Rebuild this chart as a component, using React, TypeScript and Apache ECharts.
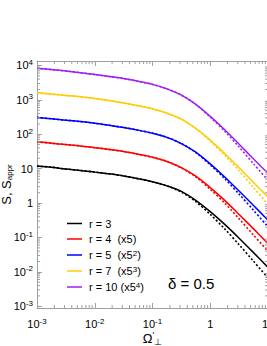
import React, { useEffect, useRef } from 'react';
import * as echarts from 'echarts';

// ---- data ----
const OMEGA = [
  0.001, 0.00178, 0.00316, 0.00562, 0.01, 0.0178, 0.0316, 0.0562, 0.1,
  0.178, 0.316, 0.562, 1, 1.78, 3.16, 5.62, 10,
];

const S_R3 = [12.0, 11.0, 9.77, 8.91, 7.94, 7.08, 6.17, 5.13, 4.17, 3.16, 2.19, 1.2, 0.562, 0.24, 0.0955, 0.0363, 0.0135];
const SA_R3 = [12.0, 11.0, 9.77, 8.91, 7.94, 7.08, 6.17, 5.13, 4.17, 3.16, 2.09, 1.1, 0.468, 0.178, 0.0617, 0.0204, 0.00661];
const S_R4 = [60.3, 55.0, 50.1, 45.7, 40.7, 36.3, 31.6, 26.3, 21.4, 16.2, 10.7, 6.03, 2.82, 1.2, 0.468, 0.178, 0.0661];
const SA_R4 = [60.3, 55.0, 50.1, 45.7, 40.7, 36.3, 31.6, 26.3, 21.4, 16.2, 10.5, 5.75, 2.51, 1.0, 0.347, 0.117, 0.0398];
const S_R5 = [309, 282, 257, 234, 209, 182, 158, 132, 107, 81.3, 53.7, 30.2, 13.8, 5.75, 2.24, 0.851, 0.316];
const SA_R5 = [309, 282, 257, 234, 209, 182, 158, 132, 107, 81.3, 53.7, 29.5, 12.9, 5.13, 1.82, 0.617, 0.204];
const S_R7 = [1622, 1479, 1349, 1230, 1096, 955, 813, 676, 550, 407, 275, 148, 67.6, 27.5, 10.7, 3.98, 1.48];
const SA_R7 = [1622, 1479, 1349, 1230, 1096, 955, 813, 676, 550, 407, 275, 145, 63.1, 24.5, 8.71, 2.82, 0.912];
const S_R10 = [8318, 7586, 6918, 6166, 5495, 4786, 4169, 3467, 2818, 2089, 1380, 741, 331, 135, 51.3, 19.1, 7.24];
const SA_R10 = [8318, 7586, 6918, 6166, 5495, 4786, 4169, 3467, 2818, 2089, 1380, 741, 316, 123, 42.7, 13.8, 4.57];

const SERIES_NAMES = ['r = 3', 'r = 4  (x5)', 'r = 5  (x5²)', 'r = 7  (x5³)', 'r = 10 (x5⁴)'];
const SERIES_COLORS = ['#000000', '#ff0000', '#0000ff', '#ffcc00', '#a020f0'];
const SOLID = [S_R3, S_R4, S_R5, S_R7, S_R10];
const APPR = [SA_R3, SA_R4, SA_R5, SA_R7, SA_R10];

const X_MIN = 0.001;
const X_MAX = 10;
const Y_MIN = 0.000891;
const Y_MAX = 13490;

const X_TICK_VALUES = [0.001, 0.01, 0.1, 1, 10];
const X_TICK_TEXT: [string, string][] = [['10', '-3'], ['10', '-2'], ['10', '-1'], ['1', ''], ['10', '']];
const Y_TICK_VALUES = [0.001, 0.01, 0.1, 1, 10, 100, 1000, 10000];
const Y_TICK_TEXT: [string, string][] = [
  ['10', '-3'], ['10', '-2'], ['10', '-1'], ['1', ''], ['10', ''], ['10', '2'], ['10', '3'], ['10', '4'],
];
const X_MINOR = [
  0.002, 0.003, 0.004, 0.005, 0.006, 0.007, 0.008, 0.009,
  0.02, 0.03, 0.04, 0.05, 0.06, 0.07, 0.08, 0.09,
  0.2, 0.3, 0.4, 0.5, 0.6, 0.7, 0.8, 0.9,
  2, 3, 4, 5, 6, 7, 8, 9,
];
const Y_MINOR = [
  0.002, 0.003, 0.004, 0.005, 0.006, 0.007, 0.008, 0.009,
  0.02, 0.03, 0.04, 0.05, 0.06, 0.07, 0.08, 0.09,
  0.2, 0.3, 0.4, 0.5, 0.6, 0.7, 0.8, 0.9,
  2, 3, 4, 5, 6, 7, 8, 9,
  20, 30, 40, 50, 60, 70, 80, 90,
  200, 300, 400, 500, 600, 700, 800, 900,
  2000, 3000, 4000, 5000, 6000, 7000, 8000, 9000,
];

const FONT = '"Liberation Sans", Arial, sans-serif';
const AXIS_COLOR = '#a0a0a0';

function tickLabel(values: number[], texts: [string, string][], v: number): string {
  for (let i = 0; i < values.length; i++) {
    if (Math.abs(Math.log10(v) - Math.log10(values[i])) < 1e-6) {
      const [b, s] = texts[i];
      return s ? `{b|${b}}{s|${s}}` : `{b|${b}}`;
    }
  }
  return '';
}

const SUP_MAP: Record<string, string> = { '²': '2', '³': '3', '⁴': '4' };
function legendRich(name: string): string {
  const out = name.replace(/[²³⁴]/g, (m) => `}{s|${SUP_MAP[m]}}{a|`);
  return `{a|${out}}`;
}

const labelRich = {
  b: { fontSize: 11, lineHeight: 14, fontFamily: FONT, color: '#000' },
  s: { fontSize: 8, lineHeight: 4, verticalAlign: 'top', fontFamily: FONT, color: '#000' },
};

export default function App() {
  const ref = useRef<HTMLDivElement>(null);

  useEffect(() => {
    if (!ref.current) return;
    const chart = echarts.init(ref.current, null, { renderer: 'svg' });

    const lineSeries: any[] = [];
    SOLID.forEach((arr, i) => {
      lineSeries.push({
        type: 'line',
        name: SERIES_NAMES[i],
        data: OMEGA.map((x, j) => [x, arr[j]]),
        symbol: 'none',
        smooth: 0.3,
        color: SERIES_COLORS[i],
        lineStyle: { color: SERIES_COLORS[i], width: 1.5 },
        z: 3,
      });
    });
    APPR.forEach((arr, i) => {
      lineSeries.push({
        type: 'line',
        name: SERIES_NAMES[i] + ' appr',
        data: OMEGA.map((x, j) => [x, arr[j]]),
        symbol: 'none',
        smooth: 0.3,
        color: SERIES_COLORS[i],
        lineStyle: { color: SERIES_COLORS[i], width: 1.6, type: [2, 2] },
        z: 2,
      });
    });

    const tickStyle = { stroke: AXIS_COLOR, lineWidth: 1 };

    const option: any = {
      animation: false,
      backgroundColor: '#ffffff',
      textStyle: { fontFamily: FONT },
      grid: { left: 37, top: 61, right: 2, bottom: 38, containLabel: false, outerBoundsMode: 'none' },
      legend: {
        data: SERIES_NAMES,
        orient: 'vertical',
        left: 62,
        top: 213,
        icon: 'rect',
        itemWidth: 15,
        itemHeight: 1.5,
        itemGap: 4.5,
        selectedMode: false,
        formatter: (name: string) => legendRich(name),
        textStyle: {
          padding: [0, 0, 0, 2],
          rich: {
            a: { fontSize: 11, lineHeight: 12, fontFamily: FONT, color: '#000' },
            s: { fontSize: 8, lineHeight: 4, verticalAlign: 'top', fontFamily: FONT, color: '#000' },
          },
        },
      },
      xAxis: [
        {
          type: 'log',
          logBase: 10,
          min: X_MIN,
          max: X_MAX,
          position: 'bottom',
          axisLine: { show: true, lineStyle: { color: AXIS_COLOR, width: 1 } },
          axisTick: { show: true, inside: true, length: 5, lineStyle: { color: AXIS_COLOR } },
          splitLine: { show: false },
          axisLabel: {
            margin: 9,
            hideOverlap: false,
            formatter: (v: number) => tickLabel(X_TICK_VALUES, X_TICK_TEXT, v),
            rich: labelRich,
          },
          name: '{a|Ω}{p|\'}{q|⊥}',
          nameLocation: 'middle',
          nameGap: 22,
          nameMoveOverlap: false,
          nameTextStyle: {
            rich: {
              a: { fontSize: 13, lineHeight: 16, fontFamily: FONT, color: '#000' },
              p: { fontSize: 9, lineHeight: 6, verticalAlign: 'top', fontFamily: FONT, color: '#000' },
              q: { fontSize: 9, lineHeight: 10, verticalAlign: 'bottom', fontFamily: FONT, color: '#000' },
            },
          },
        },
        {
          type: 'log',
          logBase: 10,
          min: X_MIN,
          max: X_MAX,
          position: 'top',
          axisLine: { show: true, lineStyle: { color: AXIS_COLOR, width: 1 } },
          axisTick: { show: true, inside: true, length: 5, lineStyle: { color: AXIS_COLOR } },
          splitLine: { show: false },
          axisLabel: { show: false },
        },
      ],
      yAxis: {
        type: 'log',
        logBase: 10,
        min: Y_MIN,
        max: Y_MAX,
        axisLine: { show: true, lineStyle: { color: AXIS_COLOR, width: 1 } },
        axisTick: { show: true, inside: true, length: 5, lineStyle: { color: AXIS_COLOR } },
        splitLine: { show: false },
        axisLabel: {
          margin: 4,
          formatter: (v: number) => tickLabel(Y_TICK_VALUES, Y_TICK_TEXT, v),
          rich: labelRich,
        },
        name: '{a|S, S}{b|appr}',
        nameLocation: 'middle',
        nameRotate: 90,
        nameGap: 24,
        nameMoveOverlap: false,
        nameTextStyle: {
          rich: {
            a: { fontSize: 13, lineHeight: 14, fontFamily: FONT, color: '#000' },
            b: { fontSize: 8, lineHeight: 4, verticalAlign: 'bottom', fontFamily: FONT, color: '#000' },
          },
        },
      },
      graphic: [
        {
          type: 'text',
          left: 168,
          top: 276,
          style: { text: 'δ = 0.5', font: `15px ${FONT}`, fill: '#000' },
        },
      ],
      series: [
        ...lineSeries,
        {
          type: 'custom',
          coordinateSystem: 'cartesian2d',
          silent: true,
          clip: false,
          z: 5,
          data: X_MINOR.map((v) => [v, Y_MIN]),
          renderItem: (params: any, api: any) => {
            const cs = params.coordSys;
            const px = api.coord([api.value(0), api.value(1)])[0];
            return {
              type: 'group',
              children: [
                { type: 'line', shape: { x1: px, y1: cs.y + cs.height, x2: px, y2: cs.y + cs.height - 3 }, style: tickStyle },
                { type: 'line', shape: { x1: px, y1: cs.y, x2: px, y2: cs.y + 3 }, style: tickStyle },
              ],
            };
          },
        },
        {
          type: 'custom',
          coordinateSystem: 'cartesian2d',
          silent: true,
          clip: false,
          z: 5,
          data: Y_MINOR.map((v) => [X_MIN, v]),
          renderItem: (params: any, api: any) => {
            const cs = params.coordSys;
            const py = api.coord([api.value(0), api.value(1)])[1];
            return {
              type: 'group',
              children: [
                { type: 'line', shape: { x1: cs.x, y1: py, x2: cs.x + 3, y2: py }, style: tickStyle },
                { type: 'line', shape: { x1: cs.x + cs.width, y1: py, x2: cs.x + cs.width - 3, y2: py }, style: tickStyle },
              ],
            };
          },
        },
      ],
    };

    chart.setOption(option);
    return () => chart.dispose();
  }, []);

  return (
    <div style={{ position: 'fixed', left: 0, top: 0, width: 267, height: 346, overflow: 'hidden', background: '#fff' }}>
      <div ref={ref} style={{ width: 270, height: 346 }} />
    </div>
  );
}
